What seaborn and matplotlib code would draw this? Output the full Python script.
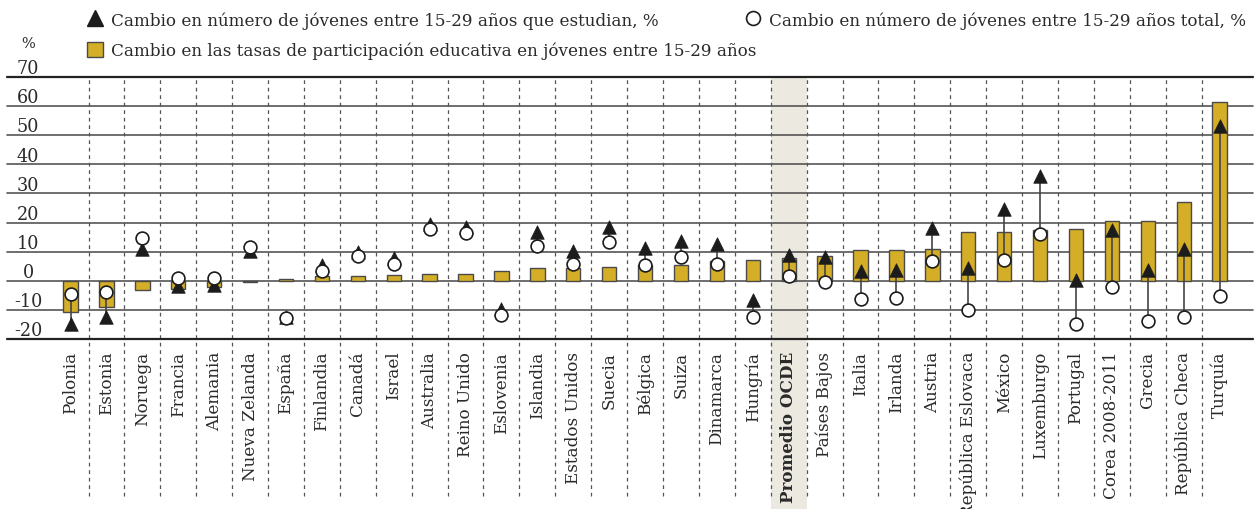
import numpy as np
import pandas as pd
import matplotlib.pyplot as plt
import matplotlib.transforms as mtransforms
from matplotlib.lines import Line2D
from matplotlib.patches import Patch
import seaborn as sns

# Datos
paises = ["Polonia", "Estonia", "Noruega", "Francia", "Alemania", "Nueva Zelanda",
          "España", "Finlandia", "Canadá", "Israel", "Australia", "Reino Unido",
          "Eslovenia", "Islandia", "Estados Unidos", "Suecia", "Bélgica", "Suiza",
          "Dinamarca", "Hungría", "Promedio OCDE", "Países Bajos", "Italia", "Irlanda",
          "Austria", "República Eslovaca", "México", "Luxemburgo", "Portugal",
          "Corea 2008-2011", "Grecia", "República Checa", "Turquía"]

# Cambio en las tasas de participación educativa (barras)
tasas = [-10.8, -9.0, -3.1, -2.7, -2.3, -0.5, 0.7, 1.5, 1.5, 2.1, 2.2, 2.2,
         3.3, 4.3, 4.3, 4.8, 5.5, 5.5, 6.9, 7.1, 7.8, 8.6, 10.5, 10.5,
         10.9, 16.6, 16.7, 17.5, 17.9, 20.5, 20.5, 27.0, 61.5]

# Cambio en número de jóvenes que estudian (triángulos)
estudian = [-14.8, -12.5, 11.0, -1.8, -1.4, 10.4, -12.6, 5.4, 9.8, 7.8, 19.6, 18.4,
            -9.8, 16.7, 10.1, 18.4, 11.2, 13.8, 12.7, -6.5, 8.7, 8.0, 3.3, 3.6,
            18.1, 4.3, 24.5, 36.0, 0.1, 17.5, 3.8, 10.9, 53.0]

# Cambio en número de jóvenes total (círculos)
total = [-4.6, -3.9, 14.7, 0.9, 1.1, 11.6, -12.7, 3.2, 8.4, 5.8, 17.9, 16.5,
         -11.9, 12.1, 5.8, 13.3, 5.5, 8.1, 5.8, -12.5, 1.5, -0.4, -6.2, -6.0,
         6.9, -10.2, 7.0, 16.1, -15.0, -2.3, -13.9, -12.6, -5.2]

y_ticks = [-20, -10, 0, 10, 20, 30, 40, 50, 60, 70]

df = pd.DataFrame({"pais": paises, "tasa": tasas, "estudian": estudian, "total": total})
df["pos"] = np.arange(len(df))

sns.set_style("white")
plt.rcParams["font.family"] = ["DejaVu Serif"]
plt.rcParams["text.color"] = "#2a2a2a"
fs = 12.1

W, H = 1255, 510
fig = plt.figure(figsize=(W / 100, H / 100), dpi=100)
# ejes colocados en píxeles: x 7..1253, y 78..340
ax = fig.add_axes([7 / W, (H - 340) / H, (1253 - 7) / W, (340 - 78) / H])
ax.set_xlim(-1.77, 32.93)
ax.set_ylim(-20, 70)

oro = "#D5AE28"
borde = "#4a4a4a"
tinta = "#1c1c1c"

# banda del promedio OCDE
ax.axvspan(19.5, 20.5, ymin=-0.65, ymax=1, color="#ECE9E1", lw=0, zorder=0, clip_on=False)

# separadores punteados
for x in np.arange(0.5, len(df) - 1, 1.0):
    ax.axvline(x, ymin=-0.6, ymax=1, color="#555555", lw=0.9, ls=(0, (3, 3)),
               zorder=1, clip_on=False)

# líneas horizontales
for v in y_ticks:
    extremo = v in (-20, 70)
    ax.axhline(v, color="#222222" if extremo else "#555555", lw=1.6 if extremo else 1.2,
               zorder=1, clip_on=False)

sns.barplot(data=df, x="pos", y="tasa", native_scale=True, width=0.4, color=oro,
            saturation=1, edgecolor=borde, linewidth=1.0, ax=ax, zorder=2)

ax.vlines(df["pos"], df["total"], df["estudian"], color="#444444", lw=1.2, zorder=3)

sns.scatterplot(data=df, x="pos", y="estudian", marker="^", s=95, color=tinta,
                edgecolor=tinta, linewidth=0.5, ax=ax, zorder=4)
sns.scatterplot(data=df, x="pos", y="total", marker="o", s=85, color="white",
                edgecolor=tinta, linewidth=1.2, ax=ax, zorder=5)

for s in ax.spines.values():
    s.set_visible(False)
ax.set_xlabel("")
ax.set_ylabel("")

ax.set_xticks(df["pos"])
ax.set_xticklabels(df["pais"], rotation=90, fontsize=fs, color="#2a2a2a")
for lab in ax.get_xticklabels():
    if lab.get_text() == "Promedio OCDE":
        lab.set_fontweight("bold")
ax.tick_params(axis="x", length=0, pad=8.5)
ax.set_yticks([])

trans = mtransforms.blended_transform_factory(ax.transAxes, ax.transData)
for v in y_ticks:
    ax.text(21 / 1246, v + 1.3, str(v), transform=trans, ha="center", va="baseline",
            fontsize=fs + 0.6, color="#2a2a2a")
fig.text(28 / W, 1 - 44 / H, "%", ha="center", va="center", fontsize=10.5, color="#2a2a2a")

# leyendas
h_tri = Line2D([], [], marker="^", color=tinta, ls="none", markersize=11)
h_bar = Patch(facecolor=oro, edgecolor=borde, linewidth=1.0)
h_cir = Line2D([], [], marker="o", markerfacecolor="white", markeredgecolor=tinta,
               markeredgewidth=1.2, ls="none", markersize=10)

leg_kw = dict(frameon=False, fontsize=fs, handlelength=0.95, handleheight=0.95,
              handletextpad=0.45, labelspacing=0.8, borderpad=0, borderaxespad=0,
              loc="upper left")
leg1 = fig.legend([h_tri, h_bar],
                  ["Cambio en número de jóvenes entre 15-29 años que estudian, %",
                   "Cambio en las tasas de participación educativa en jóvenes entre 15-29 años"],
                  bbox_to_anchor=(87 / W, 1 - 12 / H), **leg_kw)
leg2 = fig.legend([h_cir], ["Cambio en número de jóvenes entre 15-29 años total, %"],
                  bbox_to_anchor=(745 / W, 1 - 12 / H), **leg_kw)

fig.savefig("out.png", dpi=100)
